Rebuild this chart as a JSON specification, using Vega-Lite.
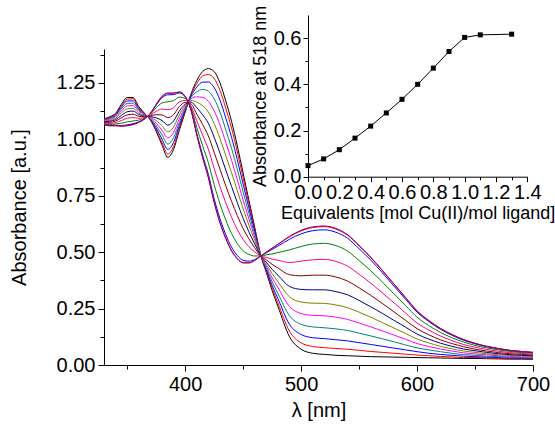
{
"$schema":"https://vega.github.io/schema/vega-lite/v6.json",
"width":429,"height":316,
"autosize":{"type":"none"},
"padding":{"left":104,"top":49,"right":22,"bottom":65},
"config":{"view":{"stroke":null},"font":"Liberation Sans","axis":{"domainColor":"#000","tickColor":"#000","labelColor":"#000","titleColor":"#000","labelFont":"Liberation Sans","titleFont":"Liberation Sans","titleFontWeight":"normal","grid":false,"domainWidth":1,"tickWidth":1,"labelOverlap":false,"labelFlush":false}},
"datasets":{
"spectra":[
{"s":0,"w":330,"a":1.09},{"s":1,"w":330,"a":1.089},{"s":2,"w":330,"a":1.087},{"s":3,"w":330,"a":1.085},{"s":4,"w":330,"a":1.083},{"s":5,"w":330,"a":1.080},{"s":6,"w":330,"a":1.077},{"s":7,"w":330,"a":1.075},{"s":8,"w":330,"a":1.072},{"s":9,"w":330,"a":1.068},{"s":10,"w":330,"a":1.066},{"s":11,"w":330,"a":1.065},{"s":12,"w":330,"a":1.065},
{"s":0,"w":335,"a":1.10},{"s":1,"w":335,"a":1.098},{"s":2,"w":335,"a":1.095},{"s":3,"w":335,"a":1.092},{"s":4,"w":335,"a":1.088},{"s":5,"w":335,"a":1.084},{"s":6,"w":335,"a":1.080},{"s":7,"w":335,"a":1.075},{"s":8,"w":335,"a":1.070},{"s":9,"w":335,"a":1.065},{"s":10,"w":335,"a":1.061},{"s":11,"w":335,"a":1.060},{"s":12,"w":335,"a":1.06},
{"s":0,"w":340,"a":1.115},{"s":1,"w":340,"a":1.112},{"s":2,"w":340,"a":1.108},{"s":3,"w":340,"a":1.104},{"s":4,"w":340,"a":1.099},{"s":5,"w":340,"a":1.093},{"s":6,"w":340,"a":1.087},{"s":7,"w":340,"a":1.081},{"s":8,"w":340,"a":1.074},{"s":9,"w":340,"a":1.068},{"s":10,"w":340,"a":1.062},{"s":11,"w":340,"a":1.060},{"s":12,"w":340,"a":1.06},
{"s":0,"w":345,"a":1.155},{"s":1,"w":345,"a":1.150},{"s":2,"w":345,"a":1.143},{"s":3,"w":345,"a":1.135},{"s":4,"w":345,"a":1.126},{"s":5,"w":345,"a":1.117},{"s":6,"w":345,"a":1.106},{"s":7,"w":345,"a":1.095},{"s":8,"w":345,"a":1.083},{"s":9,"w":345,"a":1.071},{"s":10,"w":345,"a":1.061},{"s":11,"w":345,"a":1.059},{"s":12,"w":345,"a":1.058},
{"s":0,"w":350,"a":1.185},{"s":1,"w":350,"a":1.178},{"s":2,"w":350,"a":1.170},{"s":3,"w":350,"a":1.159},{"s":4,"w":350,"a":1.148},{"s":5,"w":350,"a":1.135},{"s":6,"w":350,"a":1.122},{"s":7,"w":350,"a":1.108},{"s":8,"w":350,"a":1.093},{"s":9,"w":350,"a":1.077},{"s":10,"w":350,"a":1.064},{"s":11,"w":350,"a":1.061},{"s":12,"w":350,"a":1.06},
{"s":0,"w":355,"a":1.185},{"s":1,"w":355,"a":1.179},{"s":2,"w":355,"a":1.170},{"s":3,"w":355,"a":1.160},{"s":4,"w":355,"a":1.149},{"s":5,"w":355,"a":1.137},{"s":6,"w":355,"a":1.125},{"s":7,"w":355,"a":1.111},{"s":8,"w":355,"a":1.096},{"s":9,"w":355,"a":1.081},{"s":10,"w":355,"a":1.069},{"s":11,"w":355,"a":1.066},{"s":12,"w":355,"a":1.065},
{"s":0,"w":360,"a":1.145},{"s":1,"w":360,"a":1.141},{"s":2,"w":360,"a":1.136},{"s":3,"w":360,"a":1.130},{"s":4,"w":360,"a":1.124},{"s":5,"w":360,"a":1.117},{"s":6,"w":360,"a":1.110},{"s":7,"w":360,"a":1.102},{"s":8,"w":360,"a":1.093},{"s":9,"w":360,"a":1.085},{"s":10,"w":360,"a":1.077},{"s":11,"w":360,"a":1.075},{"s":12,"w":360,"a":1.075},
{"s":0,"w":365,"a":1.115},{"s":1,"w":365,"a":1.114},{"s":2,"w":365,"a":1.112},{"s":3,"w":365,"a":1.110},{"s":4,"w":365,"a":1.108},{"s":5,"w":365,"a":1.105},{"s":6,"w":365,"a":1.102},{"s":7,"w":365,"a":1.100},{"s":8,"w":365,"a":1.097},{"s":9,"w":365,"a":1.093},{"s":10,"w":365,"a":1.091},{"s":11,"w":365,"a":1.090},{"s":12,"w":365,"a":1.09},
{"s":0,"w":370,"a":1.085},{"s":1,"w":370,"a":1.087},{"s":2,"w":370,"a":1.089},{"s":3,"w":370,"a":1.091},{"s":4,"w":370,"a":1.094},{"s":5,"w":370,"a":1.097},{"s":6,"w":370,"a":1.100},{"s":7,"w":370,"a":1.104},{"s":8,"w":370,"a":1.107},{"s":9,"w":370,"a":1.111},{"s":10,"w":370,"a":1.114},{"s":11,"w":370,"a":1.115},{"s":12,"w":370,"a":1.115},
{"s":0,"w":375,"a":1.035},{"s":1,"w":375,"a":1.041},{"s":2,"w":375,"a":1.050},{"s":3,"w":375,"a":1.060},{"s":4,"w":375,"a":1.071},{"s":5,"w":375,"a":1.083},{"s":6,"w":375,"a":1.095},{"s":7,"w":375,"a":1.109},{"s":8,"w":375,"a":1.124},{"s":9,"w":375,"a":1.139},{"s":10,"w":375,"a":1.151},{"s":11,"w":375,"a":1.154},{"s":12,"w":375,"a":1.155},
{"s":0,"w":380,"a":0.975},{"s":1,"w":380,"a":0.986},{"s":2,"w":380,"a":1.001},{"s":3,"w":380,"a":1.020},{"s":4,"w":380,"a":1.040},{"s":5,"w":380,"a":1.060},{"s":6,"w":380,"a":1.083},{"s":7,"w":380,"a":1.108},{"s":8,"w":380,"a":1.134},{"s":9,"w":380,"a":1.161},{"s":10,"w":380,"a":1.184},{"s":11,"w":380,"a":1.189},{"s":12,"w":380,"a":1.19},
{"s":0,"w":385,"a":0.92},{"s":1,"w":385,"a":0.935},{"s":2,"w":385,"a":0.955},{"s":3,"w":385,"a":0.979},{"s":4,"w":385,"a":1.006},{"s":5,"w":385,"a":1.033},{"s":6,"w":385,"a":1.063},{"s":7,"w":385,"a":1.096},{"s":8,"w":385,"a":1.131},{"s":9,"w":385,"a":1.166},{"s":10,"w":385,"a":1.197},{"s":11,"w":385,"a":1.204},{"s":12,"w":385,"a":1.205},
{"s":0,"w":390,"a":0.955},{"s":1,"w":390,"a":0.968},{"s":2,"w":390,"a":0.986},{"s":3,"w":390,"a":1.007},{"s":4,"w":390,"a":1.030},{"s":5,"w":390,"a":1.054},{"s":6,"w":390,"a":1.081},{"s":7,"w":390,"a":1.109},{"s":8,"w":390,"a":1.140},{"s":9,"w":390,"a":1.171},{"s":10,"w":390,"a":1.198},{"s":11,"w":390,"a":1.204},{"s":12,"w":390,"a":1.205},
{"s":0,"w":395,"a":1.04},{"s":1,"w":395,"a":1.049},{"s":2,"w":395,"a":1.061},{"s":3,"w":395,"a":1.075},{"s":4,"w":395,"a":1.091},{"s":5,"w":395,"a":1.108},{"s":6,"w":395,"a":1.125},{"s":7,"w":395,"a":1.145},{"s":8,"w":395,"a":1.166},{"s":9,"w":395,"a":1.187},{"s":10,"w":395,"a":1.205},{"s":11,"w":395,"a":1.209},{"s":12,"w":395,"a":1.21},
{"s":0,"w":400,"a":1.12},{"s":1,"w":400,"a":1.124},{"s":2,"w":400,"a":1.129},{"s":3,"w":400,"a":1.135},{"s":4,"w":400,"a":1.141},{"s":5,"w":400,"a":1.148},{"s":6,"w":400,"a":1.155},{"s":7,"w":400,"a":1.163},{"s":8,"w":400,"a":1.172},{"s":9,"w":400,"a":1.181},{"s":10,"w":400,"a":1.188},{"s":11,"w":400,"a":1.190},{"s":12,"w":400,"a":1.19},
{"s":0,"w":405,"a":1.20},{"s":1,"w":405,"a":1.196},{"s":2,"w":405,"a":1.191},{"s":3,"w":405,"a":1.185},{"s":4,"w":405,"a":1.179},{"s":5,"w":405,"a":1.172},{"s":6,"w":405,"a":1.165},{"s":7,"w":405,"a":1.157},{"s":8,"w":405,"a":1.148},{"s":9,"w":405,"a":1.140},{"s":10,"w":405,"a":1.132},{"s":11,"w":405,"a":1.130},{"s":12,"w":405,"a":1.13},
{"s":0,"w":410,"a":1.26},{"s":1,"w":410,"a":1.247},{"s":2,"w":410,"a":1.231},{"s":3,"w":410,"a":1.210},{"s":4,"w":410,"a":1.188},{"s":5,"w":410,"a":1.165},{"s":6,"w":410,"a":1.140},{"s":7,"w":410,"a":1.112},{"s":8,"w":410,"a":1.082},{"s":9,"w":410,"a":1.053},{"s":10,"w":410,"a":1.027},{"s":11,"w":410,"a":1.021},{"s":12,"w":410,"a":1.02},
{"s":0,"w":415,"a":1.30},{"s":1,"w":415,"a":1.280},{"s":2,"w":415,"a":1.253},{"s":3,"w":415,"a":1.221},{"s":4,"w":415,"a":1.186},{"s":5,"w":415,"a":1.149},{"s":6,"w":415,"a":1.109},{"s":7,"w":415,"a":1.066},{"s":8,"w":415,"a":1.019},{"s":9,"w":415,"a":0.972},{"s":10,"w":415,"a":0.931},{"s":11,"w":415,"a":0.922},{"s":12,"w":415,"a":0.92},
{"s":0,"w":420,"a":1.313},{"s":1,"w":420,"a":1.287},{"s":2,"w":420,"a":1.254},{"s":3,"w":420,"a":1.213},{"s":4,"w":420,"a":1.168},{"s":5,"w":420,"a":1.121},{"s":6,"w":420,"a":1.071},{"s":7,"w":420,"a":1.015},{"s":8,"w":420,"a":0.956},{"s":9,"w":420,"a":0.896},{"s":10,"w":420,"a":0.845},{"s":11,"w":420,"a":0.832},{"s":12,"w":420,"a":0.83},
{"s":0,"w":425,"a":1.30},{"s":1,"w":425,"a":1.269},{"s":2,"w":425,"a":1.229},{"s":3,"w":425,"a":1.179},{"s":4,"w":425,"a":1.126},{"s":5,"w":425,"a":1.070},{"s":6,"w":425,"a":1.009},{"s":7,"w":425,"a":0.942},{"s":8,"w":425,"a":0.871},{"s":9,"w":425,"a":0.799},{"s":10,"w":425,"a":0.737},{"s":11,"w":425,"a":0.723},{"s":12,"w":425,"a":0.72},
{"s":0,"w":430,"a":1.25},{"s":1,"w":430,"a":1.217},{"s":2,"w":430,"a":1.174},{"s":3,"w":430,"a":1.121},{"s":4,"w":430,"a":1.064},{"s":5,"w":430,"a":1.004},{"s":6,"w":430,"a":0.939},{"s":7,"w":430,"a":0.868},{"s":8,"w":430,"a":0.791},{"s":9,"w":430,"a":0.714},{"s":10,"w":430,"a":0.649},{"s":11,"w":430,"a":0.633},{"s":12,"w":430,"a":0.63},
{"s":0,"w":435,"a":1.17},{"s":1,"w":435,"a":1.138},{"s":2,"w":435,"a":1.095},{"s":3,"w":435,"a":1.043},{"s":4,"w":435,"a":0.987},{"s":5,"w":435,"a":0.928},{"s":6,"w":435,"a":0.864},{"s":7,"w":435,"a":0.794},{"s":8,"w":435,"a":0.719},{"s":9,"w":435,"a":0.643},{"s":10,"w":435,"a":0.578},{"s":11,"w":435,"a":0.563},{"s":12,"w":435,"a":0.56},
{"s":0,"w":440,"a":1.08},{"s":1,"w":440,"a":1.050},{"s":2,"w":440,"a":1.009},{"s":3,"w":440,"a":0.960},{"s":4,"w":440,"a":0.908},{"s":5,"w":440,"a":0.852},{"s":6,"w":440,"a":0.791},{"s":7,"w":440,"a":0.725},{"s":8,"w":440,"a":0.655},{"s":9,"w":440,"a":0.583},{"s":10,"w":440,"a":0.522},{"s":11,"w":440,"a":0.508},{"s":12,"w":440,"a":0.505},
{"s":0,"w":445,"a":0.97},{"s":1,"w":445,"a":0.944},{"s":2,"w":445,"a":0.909},{"s":3,"w":445,"a":0.866},{"s":4,"w":445,"a":0.82},{"s":5,"w":445,"a":0.772},{"s":6,"w":445,"a":0.719},{"s":7,"w":445,"a":0.662},{"s":8,"w":445,"a":0.60},{"s":9,"w":445,"a":0.538},{"s":10,"w":445,"a":0.485},{"s":11,"w":445,"a":0.473},{"s":12,"w":445,"a":0.47},
{"s":0,"w":450,"a":0.85},{"s":1,"w":450,"a":0.829},{"s":2,"w":450,"a":0.801},{"s":3,"w":450,"a":0.767},{"s":4,"w":450,"a":0.731},{"s":5,"w":450,"a":0.692},{"s":6,"w":450,"a":0.650},{"s":7,"w":450,"a":0.604},{"s":8,"w":450,"a":0.556},{"s":9,"w":450,"a":0.506},{"s":10,"w":450,"a":0.464},{"s":11,"w":450,"a":0.454},{"s":12,"w":450,"a":0.452},
{"s":0,"w":455,"a":0.73},{"s":1,"w":455,"a":0.715},{"s":2,"w":455,"a":0.696},{"s":3,"w":455,"a":0.672},{"s":4,"w":455,"a":0.647},{"s":5,"w":455,"a":0.620},{"s":6,"w":455,"a":0.590},{"s":7,"w":455,"a":0.559},{"s":8,"w":455,"a":0.524},{"s":9,"w":455,"a":0.490},{"s":10,"w":455,"a":0.460},{"s":11,"w":455,"a":0.453},{"s":12,"w":455,"a":0.452},
{"s":0,"w":460,"a":0.61},{"s":1,"w":460,"a":0.602},{"s":2,"w":460,"a":0.592},{"s":3,"w":460,"a":0.579},{"s":4,"w":460,"a":0.566},{"s":5,"w":460,"a":0.552},{"s":6,"w":460,"a":0.536},{"s":7,"w":460,"a":0.519},{"s":8,"w":460,"a":0.501},{"s":9,"w":460,"a":0.483},{"s":10,"w":460,"a":0.467},{"s":11,"w":460,"a":0.464},{"s":12,"w":460,"a":0.463},
{"s":0,"w":465,"a":0.49},{"s":1,"w":465,"a":0.490},{"s":2,"w":465,"a":0.489},{"s":3,"w":465,"a":0.488},{"s":4,"w":465,"a":0.488},{"s":5,"w":465,"a":0.487},{"s":6,"w":465,"a":0.486},{"s":7,"w":465,"a":0.485},{"s":8,"w":465,"a":0.484},{"s":9,"w":465,"a":0.483},{"s":10,"w":465,"a":0.482},{"s":11,"w":465,"a":0.482},{"s":12,"w":465,"a":0.482},
{"s":0,"w":470,"a":0.41},{"s":1,"w":470,"a":0.415},{"s":2,"w":470,"a":0.421},{"s":3,"w":470,"a":0.429},{"s":4,"w":470,"a":0.437},{"s":5,"w":470,"a":0.446},{"s":6,"w":470,"a":0.455},{"s":7,"w":470,"a":0.466},{"s":8,"w":470,"a":0.477},{"s":9,"w":470,"a":0.488},{"s":10,"w":470,"a":0.497},{"s":11,"w":470,"a":0.500},{"s":12,"w":470,"a":0.50},
{"s":0,"w":475,"a":0.33},{"s":1,"w":475,"a":0.340},{"s":2,"w":475,"a":0.353},{"s":3,"w":475,"a":0.369},{"s":4,"w":475,"a":0.386},{"s":5,"w":475,"a":0.405},{"s":6,"w":475,"a":0.424},{"s":7,"w":475,"a":0.446},{"s":8,"w":475,"a":0.469},{"s":9,"w":475,"a":0.492},{"s":10,"w":475,"a":0.512},{"s":11,"w":475,"a":0.517},{"s":12,"w":475,"a":0.518},
{"s":0,"w":480,"a":0.26},{"s":1,"w":480,"a":0.275},{"s":2,"w":480,"a":0.294},{"s":3,"w":480,"a":0.317},{"s":4,"w":480,"a":0.343},{"s":5,"w":480,"a":0.369},{"s":6,"w":480,"a":0.398},{"s":7,"w":480,"a":0.430},{"s":8,"w":480,"a":0.464},{"s":9,"w":480,"a":0.498},{"s":10,"w":480,"a":0.527},{"s":11,"w":480,"a":0.534},{"s":12,"w":480,"a":0.535},
{"s":0,"w":490,"a":0.125},{"s":1,"w":490,"a":0.149},{"s":2,"w":490,"a":0.180},{"s":3,"w":490,"a":0.218},{"s":4,"w":490,"a":0.259},{"s":5,"w":490,"a":0.302},{"s":6,"w":490,"a":0.348},{"s":7,"w":490,"a":0.400},{"s":8,"w":490,"a":0.454},{"s":9,"w":490,"a":0.510},{"s":10,"w":490,"a":0.557},{"s":11,"w":490,"a":0.568},{"s":12,"w":490,"a":0.57},
{"s":0,"w":500,"a":0.07},{"s":1,"w":500,"a":0.098},{"s":2,"w":500,"a":0.135},{"s":3,"w":500,"a":0.180},{"s":4,"w":500,"a":0.228},{"s":5,"w":500,"a":0.279},{"s":6,"w":500,"a":0.335},{"s":7,"w":500,"a":0.395},{"s":8,"w":500,"a":0.46},{"s":9,"w":500,"a":0.525},{"s":10,"w":500,"a":0.581},{"s":11,"w":500,"a":0.594},{"s":12,"w":500,"a":0.597},
{"s":0,"w":510,"a":0.052},{"s":1,"w":510,"a":0.082},{"s":2,"w":510,"a":0.121},{"s":3,"w":510,"a":0.169},{"s":4,"w":510,"a":0.220},{"s":5,"w":510,"a":0.274},{"s":6,"w":510,"a":0.333},{"s":7,"w":510,"a":0.398},{"s":8,"w":510,"a":0.466},{"s":9,"w":510,"a":0.536},{"s":10,"w":510,"a":0.595},{"s":11,"w":510,"a":0.609},{"s":12,"w":510,"a":0.612},
{"s":0,"w":520,"a":0.047},{"s":1,"w":520,"a":0.077},{"s":2,"w":520,"a":0.117},{"s":3,"w":520,"a":0.165},{"s":4,"w":520,"a":0.218},{"s":5,"w":520,"a":0.273},{"s":6,"w":520,"a":0.333},{"s":7,"w":520,"a":0.398},{"s":8,"w":520,"a":0.468},{"s":9,"w":520,"a":0.539},{"s":10,"w":520,"a":0.599},{"s":11,"w":520,"a":0.613},{"s":12,"w":520,"a":0.616},
{"s":0,"w":530,"a":0.043},{"s":1,"w":530,"a":0.073},{"s":2,"w":530,"a":0.112},{"s":3,"w":530,"a":0.160},{"s":4,"w":530,"a":0.212},{"s":5,"w":530,"a":0.266},{"s":6,"w":530,"a":0.325},{"s":7,"w":530,"a":0.390},{"s":8,"w":530,"a":0.459},{"s":9,"w":530,"a":0.529},{"s":10,"w":530,"a":0.588},{"s":11,"w":530,"a":0.602},{"s":12,"w":530,"a":0.605},
{"s":0,"w":540,"a":0.041},{"s":1,"w":540,"a":0.070},{"s":2,"w":540,"a":0.107},{"s":3,"w":540,"a":0.153},{"s":4,"w":540,"a":0.202},{"s":5,"w":540,"a":0.254},{"s":6,"w":540,"a":0.311},{"s":7,"w":540,"a":0.372},{"s":8,"w":540,"a":0.438},{"s":9,"w":540,"a":0.505},{"s":10,"w":540,"a":0.562},{"s":11,"w":540,"a":0.575},{"s":12,"w":540,"a":0.578},
{"s":0,"w":550,"a":0.039},{"s":1,"w":550,"a":0.065},{"s":2,"w":550,"a":0.099},{"s":3,"w":550,"a":0.141},{"s":4,"w":550,"a":0.186},{"s":5,"w":550,"a":0.234},{"s":6,"w":550,"a":0.286},{"s":7,"w":550,"a":0.342},{"s":8,"w":550,"a":0.402},{"s":9,"w":550,"a":0.463},{"s":10,"w":550,"a":0.515},{"s":11,"w":550,"a":0.528},{"s":12,"w":550,"a":0.53},
{"s":0,"w":560,"a":0.037},{"s":1,"w":560,"a":0.060},{"s":2,"w":560,"a":0.091},{"s":3,"w":560,"a":0.129},{"s":4,"w":560,"a":0.169},{"s":5,"w":560,"a":0.212},{"s":6,"w":560,"a":0.258},{"s":7,"w":560,"a":0.309},{"s":8,"w":560,"a":0.363},{"s":9,"w":560,"a":0.418},{"s":10,"w":560,"a":0.465},{"s":11,"w":560,"a":0.476},{"s":12,"w":560,"a":0.478},
{"s":0,"w":570,"a":0.036},{"s":1,"w":570,"a":0.056},{"s":2,"w":570,"a":0.083},{"s":3,"w":570,"a":0.116},{"s":4,"w":570,"a":0.151},{"s":5,"w":570,"a":0.188},{"s":6,"w":570,"a":0.229},{"s":7,"w":570,"a":0.273},{"s":8,"w":570,"a":0.320},{"s":9,"w":570,"a":0.368},{"s":10,"w":570,"a":0.409},{"s":11,"w":570,"a":0.418},{"s":12,"w":570,"a":0.42},
{"s":0,"w":580,"a":0.035},{"s":1,"w":580,"a":0.052},{"s":2,"w":580,"a":0.075},{"s":3,"w":580,"a":0.103},{"s":4,"w":580,"a":0.133},{"s":5,"w":580,"a":0.164},{"s":6,"w":580,"a":0.198},{"s":7,"w":580,"a":0.236},{"s":8,"w":580,"a":0.276},{"s":9,"w":580,"a":0.316},{"s":10,"w":580,"a":0.350},{"s":11,"w":580,"a":0.358},{"s":12,"w":580,"a":0.36},
{"s":0,"w":590,"a":0.034},{"s":1,"w":590,"a":0.048},{"s":2,"w":590,"a":0.067},{"s":3,"w":590,"a":0.089},{"s":4,"w":590,"a":0.114},{"s":5,"w":590,"a":0.140},{"s":6,"w":590,"a":0.168},{"s":7,"w":590,"a":0.198},{"s":8,"w":590,"a":0.231},{"s":9,"w":590,"a":0.264},{"s":10,"w":590,"a":0.292},{"s":11,"w":590,"a":0.299},{"s":12,"w":590,"a":0.30},
{"s":0,"w":600,"a":0.033},{"s":1,"w":600,"a":0.044},{"s":2,"w":600,"a":0.059},{"s":3,"w":600,"a":0.076},{"s":4,"w":600,"a":0.095},{"s":5,"w":600,"a":0.115},{"s":6,"w":600,"a":0.137},{"s":7,"w":600,"a":0.161},{"s":8,"w":600,"a":0.186},{"s":9,"w":600,"a":0.212},{"s":10,"w":600,"a":0.234},{"s":11,"w":600,"a":0.239},{"s":12,"w":600,"a":0.24},
{"s":0,"w":610,"a":0.032},{"s":1,"w":610,"a":0.041},{"s":2,"w":610,"a":0.052},{"s":3,"w":610,"a":0.067},{"s":4,"w":610,"a":0.082},{"s":5,"w":610,"a":0.098},{"s":6,"w":610,"a":0.115},{"s":7,"w":610,"a":0.134},{"s":8,"w":610,"a":0.155},{"s":9,"w":610,"a":0.175},{"s":10,"w":610,"a":0.193},{"s":11,"w":610,"a":0.197},{"s":12,"w":610,"a":0.198},
{"s":0,"w":620,"a":0.031},{"s":1,"w":620,"a":0.038},{"s":2,"w":620,"a":0.047},{"s":3,"w":620,"a":0.059},{"s":4,"w":620,"a":0.071},{"s":5,"w":620,"a":0.083},{"s":6,"w":620,"a":0.097},{"s":7,"w":620,"a":0.112},{"s":8,"w":620,"a":0.129},{"s":9,"w":620,"a":0.145},{"s":10,"w":620,"a":0.159},{"s":11,"w":620,"a":0.162},{"s":12,"w":620,"a":0.163},
{"s":0,"w":630,"a":0.030},{"s":1,"w":630,"a":0.036},{"s":2,"w":630,"a":0.043},{"s":3,"w":630,"a":0.052},{"s":4,"w":630,"a":0.062},{"s":5,"w":630,"a":0.072},{"s":6,"w":630,"a":0.083},{"s":7,"w":630,"a":0.095},{"s":8,"w":630,"a":0.108},{"s":9,"w":630,"a":0.121},{"s":10,"w":630,"a":0.132},{"s":11,"w":630,"a":0.135},{"s":12,"w":630,"a":0.135},
{"s":0,"w":640,"a":0.029},{"s":1,"w":640,"a":0.033},{"s":2,"w":640,"a":0.039},{"s":3,"w":640,"a":0.046},{"s":4,"w":640,"a":0.054},{"s":5,"w":640,"a":0.062},{"s":6,"w":640,"a":0.071},{"s":7,"w":640,"a":0.081},{"s":8,"w":640,"a":0.091},{"s":9,"w":640,"a":0.102},{"s":10,"w":640,"a":0.110},{"s":11,"w":640,"a":0.113},{"s":12,"w":640,"a":0.113},
{"s":0,"w":650,"a":0.029},{"s":1,"w":650,"a":0.033},{"s":2,"w":650,"a":0.037},{"s":3,"w":650,"a":0.043},{"s":4,"w":650,"a":0.049},{"s":5,"w":650,"a":0.056},{"s":6,"w":650,"a":0.063},{"s":7,"w":650,"a":0.070},{"s":8,"w":650,"a":0.079},{"s":9,"w":650,"a":0.087},{"s":10,"w":650,"a":0.094},{"s":11,"w":650,"a":0.096},{"s":12,"w":650,"a":0.096},
{"s":0,"w":660,"a":0.028},{"s":1,"w":660,"a":0.031},{"s":2,"w":660,"a":0.035},{"s":3,"w":660,"a":0.039},{"s":4,"w":660,"a":0.045},{"s":5,"w":660,"a":0.050},{"s":6,"w":660,"a":0.056},{"s":7,"w":660,"a":0.062},{"s":8,"w":660,"a":0.069},{"s":9,"w":660,"a":0.076},{"s":10,"w":660,"a":0.081},{"s":11,"w":660,"a":0.083},{"s":12,"w":660,"a":0.083},
{"s":0,"w":670,"a":0.027},{"s":1,"w":670,"a":0.029},{"s":2,"w":670,"a":0.033},{"s":3,"w":670,"a":0.037},{"s":4,"w":670,"a":0.041},{"s":5,"w":670,"a":0.045},{"s":6,"w":670,"a":0.050},{"s":7,"w":670,"a":0.055},{"s":8,"w":670,"a":0.061},{"s":9,"w":670,"a":0.067},{"s":10,"w":670,"a":0.072},{"s":11,"w":670,"a":0.073},{"s":12,"w":670,"a":0.073},
{"s":0,"w":680,"a":0.026},{"s":1,"w":680,"a":0.028},{"s":2,"w":680,"a":0.031},{"s":3,"w":680,"a":0.034},{"s":4,"w":680,"a":0.038},{"s":5,"w":680,"a":0.042},{"s":6,"w":680,"a":0.046},{"s":7,"w":680,"a":0.050},{"s":8,"w":680,"a":0.055},{"s":9,"w":680,"a":0.060},{"s":10,"w":680,"a":0.064},{"s":11,"w":680,"a":0.065},{"s":12,"w":680,"a":0.065},
{"s":0,"w":690,"a":0.026},{"s":1,"w":690,"a":0.028},{"s":2,"w":690,"a":0.030},{"s":3,"w":690,"a":0.033},{"s":4,"w":690,"a":0.036},{"s":5,"w":690,"a":0.040},{"s":6,"w":690,"a":0.043},{"s":7,"w":690,"a":0.047},{"s":8,"w":690,"a":0.051},{"s":9,"w":690,"a":0.055},{"s":10,"w":690,"a":0.059},{"s":11,"w":690,"a":0.060},{"s":12,"w":690,"a":0.060},
{"s":0,"w":700,"a":0.025},{"s":1,"w":700,"a":0.027},{"s":2,"w":700,"a":0.029},{"s":3,"w":700,"a":0.031},{"s":4,"w":700,"a":0.034},{"s":5,"w":700,"a":0.037},{"s":6,"w":700,"a":0.041},{"s":7,"w":700,"a":0.044},{"s":8,"w":700,"a":0.048},{"s":9,"w":700,"a":0.052},{"s":10,"w":700,"a":0.055},{"s":11,"w":700,"a":0.056},{"s":12,"w":700,"a":0.056}
],
"titration":[
{"e":0.0,"v":0.048},{"e":0.1,"v":0.077},{"e":0.2,"v":0.117},{"e":0.3,"v":0.167},{"e":0.4,"v":0.219},{"e":0.5,"v":0.276},{"e":0.6,"v":0.335},{"e":0.7,"v":0.40},{"e":0.8,"v":0.47},{"e":0.9,"v":0.542},{"e":1.0,"v":0.603},{"e":1.1,"v":0.614},{"e":1.3,"v":0.617}
]},
"layer":[
{"data":{"name":"spectra"},
 "mark":{"type":"line","strokeWidth":1,"interpolate":"monotone"},
 "encoding":{
  "x":{"field":"w","type":"quantitative","scale":{"domain":[330,700],"nice":false,"zero":false},
       "axis":{"orient":"bottom","values":[350,400,450,500,550,600,650,700],"labelExpr":"datum.value % 100 === 0 ? datum.label : ''","tickSize":{"condition":{"test":"datum.value % 100 === 0","value":6},"value":4},"labelFontSize":20,"labelPadding":3,"title":"λ [nm]","titleFontSize":20,"titlePadding":6}},
  "y":{"field":"a","type":"quantitative","scale":{"domain":[0,1.4],"nice":false},
       "axis":{"orient":"left","values":[0,0.125,0.25,0.375,0.5,0.625,0.75,0.875,1,1.125,1.25,1.375],"format":".2f","labelExpr":"round(datum.value*8) % 2 === 0 ? datum.label : ''","tickSize":{"condition":{"test":"round(datum.value*8) % 2 === 0","value":6},"value":4},"labelFontSize":20,"labelPadding":3,"title":"Absorbance [a.u.]","titleFontSize":20,"titlePadding":27}},
  "color":{"field":"s","type":"nominal","scale":{"domain":[0,1,2,3,4,5,6,7,8,9,10,11,12],"range":["#000000","#FF0000","#0000FF","#008080","#FF00FF","#808000","#000080","#800000","#FF0080","#008000","#0000FF","#FF0000","#800080"]},"legend":null}
 }},
{"data":{"name":"titration"},
 "encoding":{
  "x":{"field":"e","type":"quantitative","scale":{"domain":[0,1.4],"range":[204,423.3],"nice":false,"zero":false},
       "axis":{"orient":"bottom","offset":-188.3,"values":[0,0.1,0.2,0.3,0.4,0.5,0.6,0.7,0.8,0.9,1.0,1.1,1.2,1.3,1.4],"format":".1f","labelExpr":"round(datum.value*10) % 2 === 0 ? datum.label : ''","tickSize":{"condition":{"test":"round(datum.value*10) % 2 === 0","value":5},"value":3},"labelFontSize":20,"labelPadding":1,"title":"Equivalents [mol Cu(II)/mol ligand]","titleFontSize":18,"titlePadding":2}},
  "y":{"field":"v","type":"quantitative","scale":{"domain":[0,0.7],"range":[127.7,-34],"nice":false},
       "axis":{"orient":"left","offset":-204,"values":[0,0.1,0.2,0.3,0.4,0.5,0.6],"format":".1f","labelExpr":"round(datum.value*10) % 2 === 0 ? datum.label : ''","tickSize":{"condition":{"test":"round(datum.value*10) % 2 === 0","value":5},"value":3},"labelFontSize":20,"labelPadding":2,"title":"Absorbance at 518 nm","titleFontSize":18,"titlePadding":4}}
 },
 "layer":[
  {"mark":{"type":"line","color":"#000000","strokeWidth":1}},
  {"mark":{"type":"point","shape":"square","filled":true,"color":"#000000","size":25,"opacity":1}}
 ]}
],
"resolve":{"scale":{"x":"independent","y":"independent"},"axis":{"x":"independent","y":"independent"}}
}
